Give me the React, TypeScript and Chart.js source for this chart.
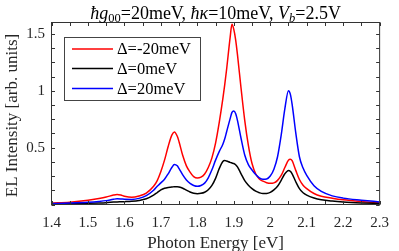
import { useEffect, useRef } from 'react';
import { Chart, registerables } from 'chart.js';

Chart.register(...registerables);

// Photon energy samples [eV]
const energy = [
  1.40, 1.45, 1.50, 1.53, 1.55, 1.57, 1.58, 1.59, 1.60, 1.62,
  1.64, 1.66, 1.68, 1.69, 1.70, 1.71, 1.72, 1.73, 1.737, 1.745,
  1.75, 1.76, 1.77, 1.78, 1.79, 1.80, 1.81, 1.82, 1.83, 1.84,
  1.85, 1.86, 1.87, 1.875, 1.88, 1.89, 1.895, 1.90, 1.905, 1.91,
  1.92, 1.93, 1.94, 1.95, 1.96, 1.97, 1.98, 1.99, 2.00, 2.01,
  2.02, 2.03, 2.04, 2.05, 2.055, 2.06, 2.07, 2.08, 2.09, 2.10,
  2.12, 2.14, 2.17, 2.20, 2.25, 2.30,
];

// Δ = -20 meV
const redVals = [
  0.012, 0.020, 0.037, 0.053, 0.066, 0.083, 0.088, 0.083, 0.073, 0.064,
  0.075, 0.100, 0.160, 0.210, 0.290, 0.390, 0.510, 0.610, 0.638, 0.600,
  0.550, 0.430, 0.340, 0.285, 0.245, 0.232, 0.240, 0.268, 0.325, 0.410,
  0.540, 0.720, 0.930, 1.050, 1.180, 1.470, 1.585, 1.540, 1.450, 1.320,
  1.020, 0.740, 0.520, 0.360, 0.270, 0.225, 0.205, 0.192, 0.186, 0.190,
  0.212, 0.255, 0.325, 0.390, 0.398, 0.385, 0.300, 0.220, 0.170, 0.140,
  0.097, 0.073, 0.055, 0.041, 0.026, 0.015,
];

// Δ = 0 meV
const blackVals = [
  0.004, 0.007, 0.010, 0.013, 0.016, 0.021, 0.023, 0.024, 0.025, 0.028,
  0.035, 0.050, 0.082, 0.105, 0.128, 0.143, 0.150, 0.153, 0.157, 0.157,
  0.154, 0.143, 0.126, 0.110, 0.099, 0.095, 0.098, 0.108, 0.130, 0.168,
  0.230, 0.315, 0.378, 0.386, 0.382, 0.370, 0.365, 0.360, 0.350, 0.330,
  0.270, 0.210, 0.170, 0.140, 0.118, 0.104, 0.096, 0.097, 0.107, 0.128,
  0.160, 0.212, 0.270, 0.300, 0.292, 0.270, 0.200, 0.140, 0.103, 0.082,
  0.057, 0.042, 0.030, 0.022, 0.014, 0.009,
];

// Δ = 20 meV
const blueVals = [
  0.008, 0.013, 0.020, 0.027, 0.034, 0.046, 0.050, 0.049, 0.046, 0.045,
  0.054, 0.078, 0.125, 0.160, 0.190, 0.222, 0.270, 0.325, 0.352, 0.340,
  0.315, 0.260, 0.215, 0.185, 0.167, 0.160, 0.167, 0.188, 0.235, 0.305,
  0.390, 0.465, 0.530, 0.575, 0.635, 0.755, 0.810, 0.822, 0.800, 0.740,
  0.580, 0.435, 0.350, 0.303, 0.263, 0.235, 0.222, 0.224, 0.250, 0.310,
  0.420, 0.610, 0.840, 1.000, 0.970, 0.880, 0.630, 0.420, 0.320, 0.255,
  0.165, 0.115, 0.076, 0.056, 0.038, 0.023,
];

const seriesLabels = ['Δ=-20meV', 'Δ=0meV', 'Δ=20meV'];
const seriesColors = ['#ff0000', '#000000', '#0000ff'];
const seriesValues = [redVals, blackVals, blueVals];

const xTickLabels = ['1.4', '1.5', '1.6', '1.7', '1.8', '1.9', '2', '2.1', '2.2', '2.3'];
const yTickLabels = ['0.5', '1', '1.5'];

const xTitle = 'Photon Energy [eV]';
const yTitle = 'EL Intensity [arb. units]';
// title pieces: [text, italic, subscript]
const titleParts: [string, boolean, boolean][] = [
  ['ħ', true, false],
  ['g', true, false],
  ['00', false, true],
  ['=20meV, ', false, false],
  ['ħκ', true, false],
  ['=10meV, ', false, false],
  ['V', true, false],
  ['b', true, true],
  ['=2.5V', false, false],
];

const FONT = "'Liberation Serif', 'Times New Roman', serif";
const AXIS_COLOR = '#333333';

function matchLabel(labels: string[], value: number): string {
  for (const l of labels) {
    if (Math.abs(Number(l) - value) < 1e-6) return l;
  }
  return '';
}

const decoPlugin = {
  id: 'deco',
  afterDraw(chart: any) {
    const { ctx, chartArea: a, scales } = chart;
    const xs = scales.x;
    const ys = scales.y;
    ctx.save();
    ctx.strokeStyle = AXIS_COLOR;
    ctx.lineWidth = 1;
    const tl = 3.5;
    const line = (x1: number, y1: number, x2: number, y2: number) => {
      ctx.beginPath();
      ctx.moveTo(x1, y1);
      ctx.lineTo(x2, y2);
      ctx.stroke();
    };
    xs.ticks.forEach((t: any) => {
      const k = t.value / 0.05;
      if (Math.abs(k - Math.round(k)) > 1e-6) return;
      const px = Math.round(xs.getPixelForValue(t.value)) + 0.5;
      line(px, a.bottom, px, a.bottom - tl);
      line(px, a.top, px, a.top + tl);
    });
    ys.ticks.forEach((t: any) => {
      const k = t.value / 0.125;
      if (Math.abs(k - Math.round(k)) > 1e-6) return;
      const py = Math.round(ys.getPixelForValue(t.value)) + 0.5;
      line(a.left, py, a.left + tl, py);
      line(a.right, py, a.right - tl, py);
    });
    ctx.strokeRect(a.left, a.top, a.right - a.left, a.bottom - a.top);

    // legend
    const lx = 64.5, ly = 37.5, lw = 136, lh = 63;
    ctx.fillStyle = '#ffffff';
    ctx.fillRect(lx, ly, lw, lh);
    ctx.strokeStyle = '#444444';
    ctx.strokeRect(lx, ly, lw, lh);
    const rows = [49, 68.5, 88.5];
    ctx.font = `16.5px ${FONT}`;
    ctx.textBaseline = 'middle';
    ctx.textAlign = 'left';
    seriesLabels.forEach((lab, i) => {
      ctx.strokeStyle = seriesColors[i];
      ctx.lineWidth = 1.5;
      line(72, rows[i], 113, rows[i]);
      ctx.fillStyle = '#000000';
      ctx.fillText(lab, 117, rows[i] + 1);
    });

    // axis titles
    ctx.fillStyle = '#262626';
    ctx.font = `17px ${FONT}`;
    ctx.textAlign = 'center';
    ctx.textBaseline = 'middle';
    ctx.fillText(xTitle, (a.left + a.right) / 2, 244);
    ctx.save();
    ctx.translate(13, (a.top + a.bottom) / 2 + 2);
    ctx.rotate(-Math.PI / 2);
    ctx.fillText(yTitle, 0, 0);
    ctx.restore();

    // chart title with math pieces
    const base = 18;
    const sub = 12.5;
    const fontFor = (it: boolean, sb: boolean) =>
      `${it ? 'italic ' : ''}${sb ? sub : base}px ${FONT}`;
    let total = 0;
    titleParts.forEach(([t, it, sb]) => {
      ctx.font = fontFor(it, sb);
      total += ctx.measureText(t).width;
    });
    let x = (a.left + a.right) / 2 - total / 2;
    ctx.textAlign = 'left';
    ctx.textBaseline = 'alphabetic';
    ctx.fillStyle = '#000000';
    titleParts.forEach(([t, it, sb]) => {
      ctx.font = fontFor(it, sb);
      ctx.fillText(t, x, sb ? 21.5 : 18.5);
      x += ctx.measureText(t).width;
    });
    ctx.restore();
  },
};

export default function App() {
  const ref = useRef<HTMLCanvasElement | null>(null);
  useEffect(() => {
    document.body.style.margin = '0';
    const canvas = ref.current;
    if (!canvas) return;
    const chart = new Chart(canvas, {
      type: 'line',
      data: {
        datasets: seriesValues.map((vals, i) => ({
          label: seriesLabels[i],
          data: energy.map((e, j) => ({ x: e, y: vals[j] })),
          borderColor: seriesColors[i],
          backgroundColor: seriesColors[i],
          borderWidth: 1.5,
          pointRadius: 0,
          fill: false,
          cubicInterpolationMode: 'monotone' as const,
          order: 3 - i,
        })),
      },
      options: {
        animation: false,
        responsive: false,
        maintainAspectRatio: false,
        devicePixelRatio: 1,
        layout: { padding: { left: 0, right: 13.5, top: 22.5, bottom: 0 } },
        plugins: {
          legend: { display: false },
          tooltip: { enabled: false },
          title: { display: false },
        },
        scales: {
          x: {
            type: 'linear',
            min: 1.4,
            max: 2.3,
            grid: { display: false, drawTicks: false },
            border: { display: false },
            ticks: {
              stepSize: 0.05,
              autoSkip: false,
              maxRotation: 0,
              padding: 10,
              color: '#262626',
              font: { family: FONT, size: 15 },
              callback: (v: any) => matchLabel(xTickLabels, Number(v)),
            },
            afterFit: (s: any) => {
              s.height = 46.5;
            },
          },
          y: {
            type: 'linear',
            min: 0,
            max: 1.6,
            grid: { display: false, drawTicks: false },
            border: { display: false },
            ticks: {
              stepSize: 0.125,
              includeBounds: false,
              autoSkip: false,
              padding: 6.5,
              color: '#262626',
              font: { family: FONT, size: 15 },
              callback: (v: any) => matchLabel(yTickLabels, Number(v)),
            },
            afterFit: (s: any) => {
              s.width = 51.5;
            },
          },
        },
      },
      plugins: [decoPlugin],
    });
    return () => chart.destroy();
  }, []);
  return (
    <canvas
      ref={ref}
      width={399}
      height={251}
      style={{ display: 'block', width: 399, height: 251 }}
    />
  );
}
